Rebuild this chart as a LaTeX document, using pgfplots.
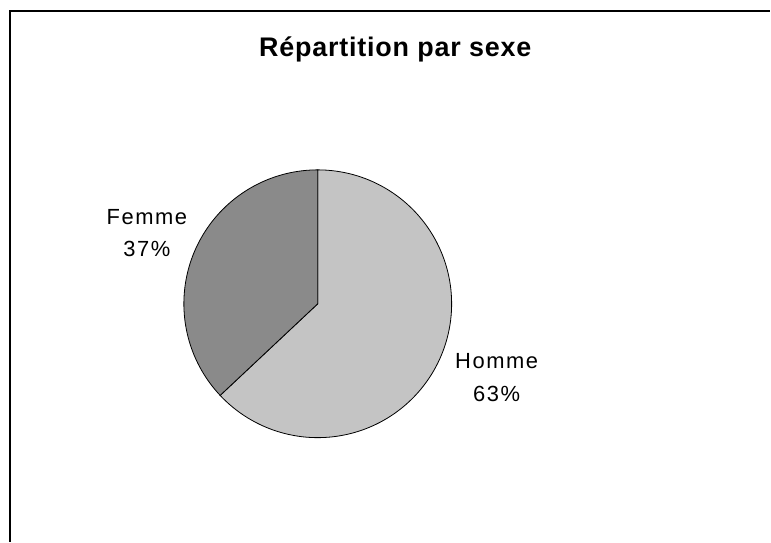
\documentclass[border=0pt]{standalone}
\usepackage{pgfplots}
\pgfplotsset{compat=1.18}
\usepackage{fontspec}
\setmainfont{Liberation Sans}
\definecolor{hommegray}{RGB}{196,196,196}
\definecolor{femmegray}{RGB}{138,138,138}

% shares in percent
\def\pctHomme{63}
\def\pctFemme{37}
% pie centre and radius (picture units, 1 unit = 1bp)
\def\cx{318}
\def\cy{238}
\def\rr{134}

\begin{document}
\begin{tikzpicture}
\begin{axis}[
    width=771bp, height=542bp, scale only axis,
    xmin=0, xmax=771, ymin=0, ymax=542,
    hide axis, clip=false,
]
% keep the full chart area as the picture's size
\path (axis cs:0,0) rectangle (axis cs:771,542);

% Homme: clockwise from 12 o'clock
\pgfmathsetmacro{\aH}{90-3.6*\pctHomme}
\addplot[draw=black, line width=0.8pt, fill=hommegray, domain=\aH:90, samples=120]
    ({\cx+\rr*cos(x)},{\cy+\rr*sin(x)}) -- (axis cs:\cx,\cy) -- cycle;
% Femme: the remaining part
\addplot[draw=black, line width=0.8pt, fill=femmegray, domain=90:\aH+360, samples=80]
    ({\cx+\rr*cos(x)},{\cy+\rr*sin(x)}) -- (axis cs:\cx,\cy) -- cycle;

\node[anchor=base, inner sep=0pt,
      font=\fontsize{27}{31}\selectfont\bfseries\addfontfeature{LetterSpace=3}]
    at (axis cs:395.5,485.3) {Répartition par sexe};

\tikzset{lbl/.style={anchor=base, inner sep=0pt,
    font=\fontsize{22}{26}\selectfont\addfontfeature{LetterSpace=7}}}
\node[lbl] at (axis cs:147,317) {Femme};
\node[lbl] at (axis cs:147,285) {\pctFemme\%};
\node[lbl] at (axis cs:497,173) {Homme};
\node[lbl] at (axis cs:497,140) {\pctHomme\%};

% chart frame (left and top edges visible)
\draw[black, line width=1.2pt] (axis cs:10,0) -- (axis cs:10,531) -- (axis cs:771,531);
\end{axis}
\end{tikzpicture}
\end{document}
